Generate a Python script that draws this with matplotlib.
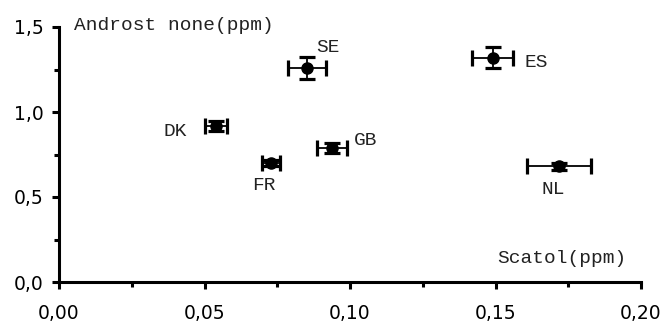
import matplotlib
matplotlib.use("Agg")
import matplotlib.pyplot as plt
from matplotlib.ticker import MultipleLocator, FuncFormatter

countries = ["SE", "ES", "NL", "DK", "FR", "GB"]
scatol = [0.0852, 0.149, 0.1718, 0.054, 0.0729, 0.0938]
androst = [1.26, 1.32, 0.68, 0.92, 0.70, 0.79]
scatol_err = [0.0065, 0.007, 0.011, 0.0037, 0.0031, 0.005]
androst_err = [0.065, 0.06, 0.02, 0.03, 0.02, 0.03]
label_pos = {"SE": (0.0883, 1.38, "left"), "ES": (0.160, 1.294, "left"),
             "NL": (0.170, 0.547, "center"), "DK": (0.044, 0.888, "right"),
             "FR": (0.0704, 0.57, "center"), "GB": (0.1014, 0.835, "left")}
x_ticks = [0.00, 0.05, 0.10, 0.15, 0.20]
y_ticks = [0.0, 0.5, 1.0, 1.5]
x_title = "Scatol(ppm)"
y_title = "Androst none(ppm)"

mono = "Liberation Mono"
fs = 14

fig = plt.figure(figsize=(6.64, 3.23), dpi=100)
ax = fig.add_axes([59/664, 1-282/323, (641-59)/664, (282-27)/323])

ax.errorbar(scatol, androst, xerr=scatol_err, yerr=androst_err, fmt="o",
            color="black", markersize=8, elinewidth=1.3, capsize=6,
            capthick=2.3, clip_on=False)

for c in countries:
    x, y, ha = label_pos[c]
    ax.text(x, y, c, ha=ha, va="center", fontsize=fs, family=mono, color="#222222")

ax.text(0.0052, 1.51, y_title, ha="left", va="center", fontsize=fs, family=mono, color="#222222")
ax.text(0.1505, 0.141, x_title, ha="left", va="center", fontsize=fs, family=mono, color="#222222")

ax.set_xlim(0, 0.2)
ax.set_ylim(0, 1.5)
ax.set_xticks(x_ticks)
ax.set_yticks(y_ticks)
ax.xaxis.set_minor_locator(MultipleLocator(0.025))
ax.yaxis.set_minor_locator(MultipleLocator(0.25))
ax.xaxis.set_major_formatter(FuncFormatter(lambda v, p: f"{v:.2f}".replace(".", ",")))
ax.yaxis.set_major_formatter(FuncFormatter(lambda v, p: f"{v:.1f}".replace(".", ",")))

for s in ["top", "right"]:
    ax.spines[s].set_visible(False)
for s in ["left", "bottom"]:
    ax.spines[s].set_linewidth(2.2)
ax.tick_params(which="major", length=5, width=2.2, labelsize=13.5)
ax.tick_params(which="minor", length=3.5, width=2.2)
ax.tick_params(axis="x", which="major", pad=11)
ax.tick_params(axis="y", which="major", pad=6)
for lab in ax.get_xticklabels() + ax.get_yticklabels():
    lab.set_family("DejaVu Sans")

fig.savefig("out.png", dpi=100)
